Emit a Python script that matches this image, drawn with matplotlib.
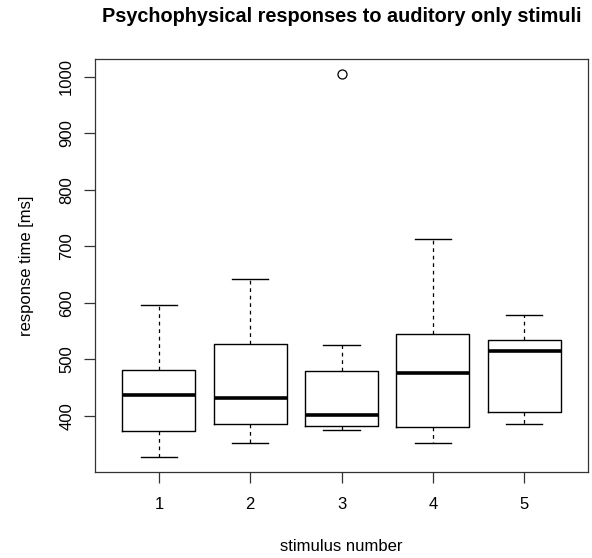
import matplotlib
matplotlib.use("Agg")
import matplotlib.pyplot as plt

plt.rcParams['font.family'] = ['Liberation Sans', 'DejaVu Sans']

# Box summaries (ms)
stimuli = [1, 2, 3, 4, 5]
whisker_lo = [327, 353, 375, 353, 385]
q1 = [374, 385, 383, 381, 407]
medians = [437, 432, 401, 476, 514]
q3 = [481, 528, 480, 545, 535]
whisker_hi = [596, 642, 526, 712, 578]
outliers = [[], [], [1004], [], []]

stats = []
for i in range(len(stimuli)):
    stats.append({
        'label': str(stimuli[i]),
        'whislo': whisker_lo[i], 'q1': q1[i], 'med': medians[i],
        'q3': q3[i], 'whishi': whisker_hi[i], 'fliers': outliers[i],
    })

fig = plt.figure(figsize=(5.92, 5.58), dpi=100)
ax = fig.add_axes([95 / 592, 1 - 472.3 / 558, (588 - 95) / 592, (472.3 - 59) / 558])

ax.bxp(stats, positions=stimuli, widths=0.8, showcaps=True,
       boxprops=dict(color='black', linewidth=1.0),
       medianprops=dict(color='black', linewidth=2.6, solid_capstyle='butt'),
       whiskerprops=dict(color='black', linewidth=0.9, linestyle=(0, (3, 3))),
       capprops=dict(color='black', linewidth=1.0),
       flierprops=dict(marker='o', markerfacecolor='none', markeredgecolor='black',
                       markersize=6.5, markeredgewidth=0.9),
       capwidths=0.4)

ax.set_xlim(0.3, 5.7)
ax.set_ylim(300.4, 1031)
ax.set_yticks([400, 500, 600, 700, 800, 900, 1000])
ax.set_xticks(stimuli)
ax.set_xticklabels([str(s) for s in stimuli])
for lbl in ax.get_yticklabels():
    lbl.set_rotation(90)
    lbl.set_va('center')

ax.tick_params(axis='x', length=8, width=0.9, labelsize=12, pad=10, color='#333333')
ax.tick_params(axis='y', length=8, width=0.9, labelsize=12, pad=7, color='#333333')
for sp in ax.spines.values():
    sp.set_linewidth(0.9)
    sp.set_color('#333333')

ax.set_xlabel('stimulus number', fontsize=12, labelpad=19)
ax.set_ylabel('response time [ms]', fontsize=12, labelpad=18)
fig.text((95 + 588) / 2 / 592, 1 - 17 / 558,
         'Psychophysical responses to auditory only stimuli',
         ha='center', va='center', fontsize=14.3, fontweight='bold')

fig.savefig('out.png', dpi=100)
